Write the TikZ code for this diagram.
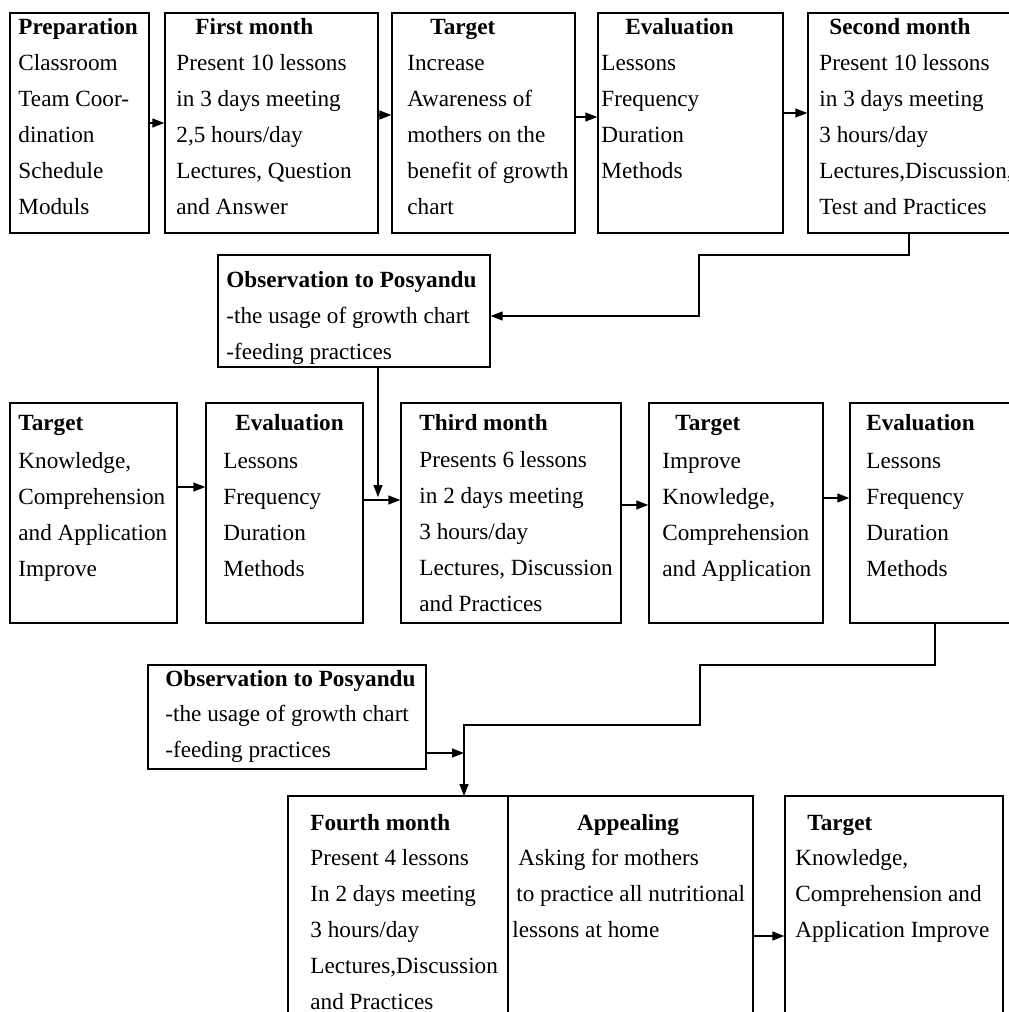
\documentclass[tikz,border=0pt]{standalone}
\usepackage{fontspec}
\setmainfont{Liberation Serif}
\usetikzlibrary{arrows.meta,fit,positioning}

\begin{document}
\begin{tikzpicture}
[x=0.5pt,y=-0.5pt,
 box/.style={draw=black,line width=0.7pt,inner sep=0pt},
 ttl/.style={anchor=base west,inner sep=0pt,font=\fontsize{11.6}{18}\selectfont\bfseries},
 txt/.style={anchor=base west,inner sep=0pt,align=left,font=\fontsize{11.6}{18}\selectfont},
 arr/.style={-{Triangle[length=6pt,width=4.5pt]},line width=0.7pt}]
\useasboundingbox (0,0) rectangle (1008,1012);

% first row (text nodes sit on the baseline of their last line)
\node[box,fit={(10,13) (149,233)}] (prep) {};
\node[box,fit={(165,13) (378,233)}] (month1) {};
\node[box,fit={(392,13) (575,233)}] (target1) {};
\node[box,fit={(598,13) (783,233)}] (eval1) {};
\node[box,fit={(808,13) (1040,233)}] (month2) {};

\node[ttl] (prept) at (18,34) {Preparation};
\node[txt] (prepb) at (18,214) {Classroom\\Team Coor-\\dination\\Schedule\\Moduls};
\node[ttl] (month1t) at (195,34) {First month};
\node[txt] (month1b) at (176,214) {Present 10 lessons\\in 3 days meeting\\2,5 hours/day\\Lectures, Question\\and Answer};
\node[ttl] (target1t) at (430,34) {Target};
\node[txt] (target1b) at (407,214) {Increase\\Awareness of\\mothers on the\\benefit of growth\\chart};
\node[ttl] (eval1t) at (625,34) {Evaluation};
\node[txt] (eval1b) at (601,178) {Lessons\\Frequency\\Duration\\Methods};
\node[ttl] (month2t) at (829,34) {Second month};
\node[txt] (month2b) at (819,214) {Present 10 lessons\\in 3 days meeting\\3 hours/day\\Lectures,Discussion,\\Test and Practices};

% first observation
\node[box,fit={(218,255) (490,367)}] (obs1) {};
\node[ttl] (obs1t) at (226,287) {Observation to Posyandu};
\node[txt] (obs1b) at (226,359) {-the usage of growth chart\\-feeding practices};

% second row
\node[box,fit={(10,403) (177,623)}] (target2) {};
\node[box,fit={(206,403) (363,623)}] (eval2) {};
\node[box,fit={(401,403) (621,623)}] (month3) {};
\node[box,fit={(649,403) (823,623)}] (target3) {};
\node[box,fit={(850,403) (1040,623)}] (eval3) {};

\node[ttl] (target2t) at (18,430) {Target};
\node[txt] (target2b) at (18,576) {Knowledge,\\Comprehension\\and Application\\Improve};
\node[ttl] (eval2t) at (235,430) {Evaluation};
\node[txt] (eval2b) at (223,576) {Lessons\\Frequency\\Duration\\Methods};
\node[ttl] (month3t) at (419,430) {Third month};
\node[txt] (month3b) at (419,611) {Presents 6 lessons\\in 2 days meeting\\3 hours/day\\Lectures, Discussion\\and Practices};
\node[ttl] (target3t) at (675,430) {Target};
\node[txt] (target3b) at (662,576) {Improve\\Knowledge,\\Comprehension\\and Application};
\node[ttl] (eval3t) at (866,430) {Evaluation};
\node[txt] (eval3b) at (866,576) {Lessons\\Frequency\\Duration\\Methods};

% second observation
\node[box,fit={(148,665) (426,769)}] (obs2) {};
\node[ttl] (obs2t) at (165,686) {Observation to Posyandu};
\node[txt] (obs2b) at (165,757) {-the usage of growth chart\\-feeding practices};

% third row
\node[box,fit={(288,796) (508,1040)}] (month4) {};
\node[box,fit={(508,796) (753,1040)}] (appeal) {};
\node[box,fit={(785,796) (1003,1040)}] (target4) {};

\node[ttl] (month4t) at (310,830) {Fourth month};
\node[txt] (month4b) at (310,1009) {Present 4 lessons\\In 2 days meeting\\3 hours/day\\Lectures,Discussion\\and Practices};
\node[ttl,anchor=base] (appealt) at (628,830) {Appealing};
\node[txt] (appealb) at (512,937) {\hspace*{3pt}Asking for mothers\\\hspace*{2pt}to practice all nutritional\\lessons at home};
\node[ttl] (target4t) at (807,830) {Target};
\node[txt] (target4b) at (795,937) {Knowledge,\\Comprehension and\\Application Improve};

% bends
\coordinate (c0) at (909,255);
\coordinate (c1) at (699,316);
\coordinate (join1) at (378,497);
\coordinate (c2) at (935,665);
\coordinate (c3) at (700,725);
\coordinate (c4) at (464,796);
\coordinate (c5) at (464,753);

\draw[arr] (prep) -- (month1);
\draw[arr] ([yshift=4pt]month1.east) -- ([yshift=4pt]target1.west);
\draw[arr] ([yshift=3pt]target1.east) -- ([yshift=3pt]eval1.west);
\draw[arr] ([yshift=5pt]eval1.east) -- ([yshift=5pt]month2.west);
\draw[arr] (month2.south -| c0) -- (c0) -| (c1) -- (obs1.east |- c1);
\draw[arr] (obs1.south -| join1) -- (join1);
\draw[arr] ([yshift=13pt]target2.east) -- ([yshift=13pt]eval2.west);
\draw[arr] ([yshift=6.5pt]eval2.east) -- ([yshift=6.5pt]month3.west);
\draw[arr] ([yshift=4pt]month3.east) -- ([yshift=4pt]target3.west);
\draw[arr] ([yshift=7.5pt]target3.east) -- ([yshift=7.5pt]eval3.west);
\draw[arr] (eval3.south -| c2) -- (c2) -| (c3) -| (c4);
\draw[arr] (obs2.east |- c5) -- (c5);
\draw[arr] ([yshift=-9pt]appeal.east) -- ([yshift=-9pt]target4.west);
\end{tikzpicture}
\end{document}
